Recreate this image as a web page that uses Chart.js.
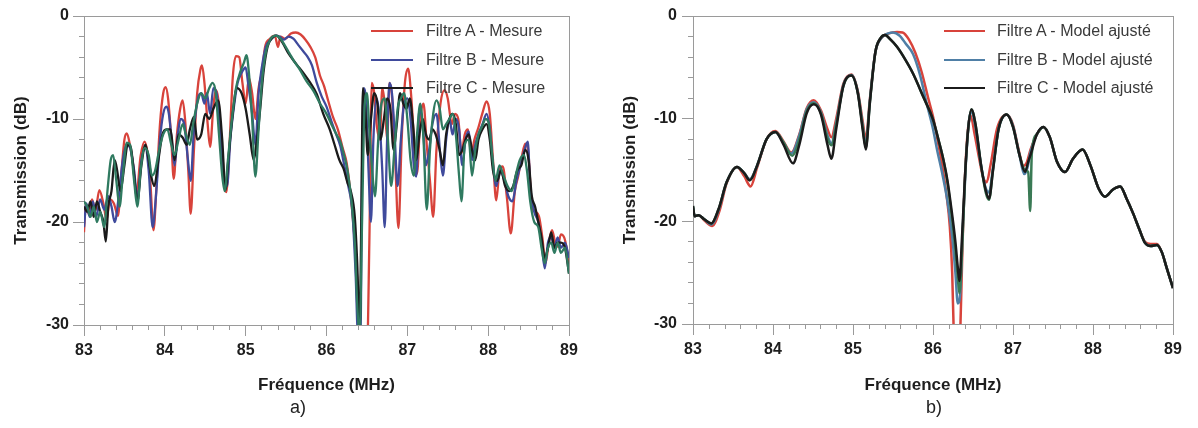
<!DOCTYPE html>
<html lang="fr">
<head>
<meta charset="utf-8">
<title>Transmission des filtres</title>
<script src="https://cdn.jsdelivr.net/npm/chart.js@4.4.1/dist/chart.umd.min.js"></script>
<style>
  html, body { margin: 0; padding: 0; background: #fff; }
  #page { position: relative; width: 1198px; height: 428px; overflow: hidden;
          font-family: "Liberation Sans", Arial, Helvetica, sans-serif; }
  #page canvas { position: absolute; top: 0; }
  .legend { position: absolute; top: 17px; }
  .legend .row { display: flex; align-items: center; height: 28.5px; }
  .legend .swatch { height: 2px; }
  .legend .label { font-size: 16px; color: #3a3a3a; white-space: nowrap; }
  .caption { position: absolute; top: 397px; font-size: 18px; color: #222;
             transform: translateX(-50%); }
</style>
</head>
<body>
<div id="page">
  <canvas id="mesure" width="600" height="428" style="left:0"></canvas>
  <canvas id="modele" width="598" height="428" style="left:600px"></canvas>
  <div class="legend" id="legMesure" style="left:371px"></div>
  <div class="legend" id="legModele" style="left:944px"></div>
  <div class="caption" style="left:298px">a)</div>
  <div class="caption" style="left:934px">b)</div>
</div>
<script>
// Fréquence (MHz), transmission (dB) -- mesures
const mesureA = [[83.00,-21.0],[83.02,-18.5],[83.06,-19.2],[83.10,-17.8],[83.14,-18.9],[83.19,-16.9],[83.24,-18.2],[83.28,-19.8],[83.32,-17.8],[83.37,-18.2],[83.42,-19.4],[83.46,-15.5],[83.50,-12.0],[83.53,-11.4],[83.57,-12.6],[83.61,-14.5],[83.65,-17.2],[83.70,-13.6],[83.75,-12.2],[83.79,-13.5],[83.82,-16.0],[83.86,-20.8],[83.90,-16.0],[83.94,-10.5],[83.98,-7.5],[84.01,-6.9],[84.04,-8.0],[84.08,-12.0],[84.11,-15.8],[84.15,-11.5],[84.19,-9.0],[84.22,-8.2],[84.25,-10.0],[84.29,-15.0],[84.32,-19.2],[84.36,-13.0],[84.40,-7.5],[84.44,-5.2],[84.46,-4.8],[84.49,-6.5],[84.53,-10.5],[84.56,-12.7],[84.60,-8.8],[84.63,-7.2],[84.66,-8.0],[84.70,-12.0],[84.74,-16.5],[84.76,-17.1],[84.80,-12.5],[84.84,-6.0],[84.88,-3.9],[84.92,-4.0],[84.96,-6.5],[85.00,-8.5],[85.04,-6.0],[85.08,-7.5],[85.12,-10.0],[85.16,-7.0],[85.20,-5.5],[85.24,-3.0],[85.30,-2.2],[85.36,-1.9],[85.40,-3.0],[85.43,-2.0],[85.49,-2.2],[85.56,-1.7],[85.62,-1.6],[85.68,-1.8],[85.74,-2.3],[85.80,-3.0],[85.86,-4.0],[85.92,-5.8],[85.97,-6.8],[86.02,-8.2],[86.08,-9.8],[86.14,-11.0],[86.20,-12.8],[86.25,-14.3],[86.30,-17.5],[86.35,-22.0],[86.40,-28.0],[86.44,-33.0],[86.50,-33.0],[86.53,-22.0],[86.56,-6.5],[86.59,-7.5],[86.62,-10.5],[86.66,-12.0],[86.69,-7.0],[86.72,-8.5],[86.75,-12.0],[86.78,-6.5],[86.81,-7.8],[86.85,-14.0],[86.89,-20.6],[86.93,-12.0],[86.97,-6.5],[87.01,-5.1],[87.05,-8.0],[87.09,-13.0],[87.12,-15.3],[87.16,-10.0],[87.20,-8.5],[87.24,-12.5],[87.28,-16.0],[87.32,-19.5],[87.36,-13.0],[87.41,-8.5],[87.46,-7.2],[87.50,-8.0],[87.55,-10.5],[87.59,-9.5],[87.63,-10.0],[87.67,-13.3],[87.71,-11.5],[87.75,-11.0],[87.79,-13.5],[87.83,-12.0],[87.88,-10.8],[87.93,-9.4],[87.98,-8.3],[88.02,-9.5],[88.06,-14.0],[88.10,-17.9],[88.14,-15.0],[88.18,-14.6],[88.23,-17.5],[88.28,-21.1],[88.33,-17.0],[88.37,-15.6],[88.42,-13.5],[88.46,-12.4],[88.50,-13.5],[88.54,-18.5],[88.58,-19.0],[88.63,-19.5],[88.67,-21.5],[88.71,-24.0],[88.75,-22.0],[88.79,-20.8],[88.83,-22.0],[88.86,-22.4],[88.90,-21.2],[88.94,-21.5],[88.97,-22.5],[89.00,-24.3]];
const mesureB = [[83.00,-20.5],[83.03,-18.2],[83.07,-19.5],[83.11,-18.0],[83.15,-19.5],[83.20,-17.8],[83.25,-18.8],[83.30,-17.5],[83.34,-18.5],[83.38,-20.0],[83.43,-17.5],[83.48,-14.0],[83.53,-12.5],[83.57,-12.8],[83.62,-15.0],[83.66,-17.8],[83.71,-14.0],[83.76,-12.8],[83.80,-15.0],[83.85,-20.5],[83.89,-17.5],[83.94,-12.0],[83.98,-9.5],[84.02,-8.8],[84.05,-9.5],[84.09,-12.5],[84.12,-14.5],[84.16,-11.5],[84.20,-10.0],[84.24,-10.5],[84.28,-13.5],[84.32,-16.0],[84.36,-11.0],[84.41,-8.0],[84.45,-7.5],[84.49,-8.5],[84.52,-7.5],[84.56,-9.5],[84.60,-7.0],[84.64,-7.5],[84.69,-11.5],[84.73,-16.0],[84.77,-16.5],[84.81,-12.0],[84.86,-8.5],[84.90,-6.5],[84.95,-5.5],[85.00,-5.0],[85.03,-6.5],[85.08,-9.5],[85.12,-12.5],[85.16,-7.5],[85.20,-5.0],[85.25,-3.0],[85.31,-2.3],[85.37,-1.9],[85.42,-2.0],[85.47,-2.3],[85.53,-2.0],[85.59,-2.2],[85.65,-2.8],[85.71,-3.4],[85.76,-3.9],[85.82,-4.8],[85.88,-6.5],[85.94,-7.8],[86.00,-8.8],[86.06,-10.2],[86.12,-11.5],[86.17,-12.6],[86.22,-14.5],[86.27,-16.5],[86.32,-19.0],[86.36,-25.0],[86.39,-31.0],[86.42,-31.0],[86.44,-15.0],[86.46,-7.0],[86.49,-8.5],[86.52,-15.0],[86.55,-20.0],[86.58,-12.0],[86.62,-8.0],[86.65,-9.5],[86.69,-15.0],[86.72,-20.5],[86.75,-12.0],[86.78,-6.5],[86.81,-7.5],[86.84,-11.0],[86.88,-16.5],[86.92,-12.0],[86.96,-8.5],[87.00,-8.0],[87.04,-10.0],[87.08,-14.5],[87.11,-15.6],[87.15,-9.0],[87.19,-10.5],[87.23,-14.5],[87.27,-13.0],[87.31,-10.5],[87.36,-9.5],[87.41,-13.7],[87.44,-15.5],[87.48,-12.0],[87.52,-10.0],[87.56,-11.5],[87.60,-10.0],[87.64,-11.0],[87.68,-14.5],[87.72,-12.0],[87.76,-11.2],[87.80,-14.0],[87.84,-12.5],[87.88,-11.5],[87.93,-10.5],[87.98,-9.5],[88.02,-11.0],[88.06,-14.5],[88.10,-16.5],[88.15,-15.0],[88.20,-16.0],[88.25,-17.5],[88.30,-18.0],[88.35,-16.0],[88.40,-14.5],[88.45,-13.0],[88.49,-12.2],[88.52,-16.5],[88.57,-19.0],[88.62,-20.0],[88.66,-22.0],[88.70,-24.5],[88.74,-22.0],[88.78,-21.5],[88.82,-22.5],[88.86,-21.5],[88.90,-22.5],[88.95,-22.0],[89.00,-23.5]];
const mesureC = [[83.00,-18.5],[83.04,-19.0],[83.08,-18.0],[83.12,-19.5],[83.16,-18.0],[83.20,-19.0],[83.24,-20.0],[83.27,-21.9],[83.30,-18.5],[83.34,-17.0],[83.38,-14.0],[83.41,-15.0],[83.45,-17.0],[83.50,-14.5],[83.54,-12.5],[83.58,-12.8],[83.62,-15.5],[83.66,-18.0],[83.71,-14.5],[83.76,-12.5],[83.80,-14.0],[83.83,-15.5],[83.87,-16.5],[83.92,-14.0],[83.97,-11.5],[84.02,-11.0],[84.07,-11.0],[84.12,-14.0],[84.17,-11.5],[84.22,-11.8],[84.27,-12.5],[84.31,-11.0],[84.36,-9.8],[84.40,-12.0],[84.45,-11.5],[84.50,-9.5],[84.55,-10.0],[84.60,-9.0],[84.66,-8.2],[84.71,-12.0],[84.75,-16.9],[84.79,-13.5],[84.84,-9.5],[84.89,-7.0],[84.95,-7.5],[85.00,-9.0],[85.05,-11.5],[85.10,-14.0],[85.14,-12.0],[85.18,-9.0],[85.22,-5.5],[85.27,-3.0],[85.32,-2.2],[85.38,-1.9],[85.45,-2.5],[85.52,-3.5],[85.59,-4.3],[85.66,-5.0],[85.72,-5.6],[85.80,-6.5],[85.88,-7.6],[85.96,-9.5],[86.04,-11.0],[86.10,-12.5],[86.16,-14.0],[86.21,-14.8],[86.26,-16.2],[86.30,-17.0],[86.35,-19.5],[86.38,-24.0],[86.41,-30.5],[86.43,-20.0],[86.45,-7.0],[86.48,-9.0],[86.51,-13.5],[86.55,-10.0],[86.59,-7.5],[86.63,-8.5],[86.67,-12.0],[86.71,-10.0],[86.75,-8.0],[86.79,-9.0],[86.83,-13.0],[86.87,-10.5],[86.91,-7.5],[86.95,-8.5],[86.99,-9.0],[87.03,-8.0],[87.07,-10.5],[87.11,-14.0],[87.15,-11.5],[87.19,-10.0],[87.23,-11.5],[87.27,-12.0],[87.31,-11.0],[87.35,-11.5],[87.40,-13.0],[87.44,-14.5],[87.48,-11.5],[87.52,-10.0],[87.56,-9.5],[87.60,-10.5],[87.64,-13.5],[87.68,-13.0],[87.72,-12.0],[87.76,-11.5],[87.80,-13.0],[87.84,-14.0],[87.88,-12.0],[87.93,-11.0],[87.98,-10.5],[88.02,-12.0],[88.06,-15.0],[88.11,-16.0],[88.16,-15.0],[88.21,-16.5],[88.26,-17.0],[88.31,-16.5],[88.36,-15.0],[88.41,-14.5],[88.46,-13.0],[88.50,-14.0],[88.54,-17.5],[88.58,-18.5],[88.62,-20.0],[88.66,-21.5],[88.70,-23.5],[88.74,-22.5],[88.78,-21.0],[88.82,-22.5],[88.86,-22.0],[88.90,-22.0],[88.95,-22.5],[89.00,-25.0]];
const mesureD = [[83.00,-18.0],[83.04,-18.5],[83.08,-19.5],[83.12,-18.5],[83.16,-20.0],[83.20,-19.0],[83.25,-20.5],[83.29,-17.0],[83.33,-14.0],[83.36,-13.5],[83.40,-16.0],[83.44,-18.5],[83.48,-15.5],[83.53,-12.3],[83.57,-12.5],[83.62,-16.0],[83.66,-18.5],[83.70,-15.0],[83.75,-12.8],[83.80,-13.5],[83.84,-15.5],[83.88,-15.0],[83.93,-13.0],[83.98,-11.5],[84.03,-11.0],[84.08,-12.5],[84.12,-13.5],[84.17,-12.0],[84.22,-10.5],[84.26,-11.5],[84.31,-12.5],[84.35,-10.5],[84.40,-8.5],[84.45,-7.5],[84.50,-8.0],[84.55,-7.0],[84.59,-6.5],[84.63,-7.5],[84.67,-11.5],[84.71,-15.5],[84.74,-17.0],[84.78,-14.0],[84.83,-10.0],[84.88,-7.0],[84.93,-5.5],[84.98,-4.5],[85.01,-3.8],[85.04,-5.5],[85.08,-10.0],[85.12,-15.6],[85.16,-11.0],[85.20,-6.5],[85.25,-3.5],[85.31,-2.2],[85.37,-1.9],[85.42,-2.1],[85.48,-2.8],[85.54,-3.6],[85.60,-4.4],[85.67,-5.2],[85.75,-6.3],[85.84,-7.3],[85.92,-8.5],[86.00,-9.5],[86.06,-10.5],[86.13,-11.6],[86.17,-12.2],[86.21,-13.3],[86.26,-15.0],[86.31,-18.0],[86.35,-22.0],[86.38,-28.0],[86.41,-31.0],[86.44,-20.0],[86.47,-9.0],[86.50,-7.5],[86.53,-11.0],[86.57,-15.5],[86.60,-17.5],[86.64,-12.0],[86.68,-8.5],[86.72,-8.0],[86.76,-12.0],[86.80,-16.5],[86.84,-13.0],[86.88,-9.0],[86.92,-8.0],[86.96,-7.5],[87.00,-10.0],[87.04,-14.0],[87.08,-15.5],[87.12,-11.5],[87.16,-8.5],[87.20,-12.0],[87.24,-18.8],[87.28,-13.0],[87.32,-9.5],[87.36,-8.2],[87.40,-9.0],[87.44,-11.0],[87.48,-10.5],[87.52,-10.0],[87.56,-9.5],[87.60,-11.5],[87.64,-15.5],[87.67,-18.0],[87.71,-12.5],[87.76,-12.0],[87.80,-15.5],[87.84,-13.0],[87.88,-11.5],[87.92,-10.8],[87.97,-10.0],[88.01,-10.5],[88.05,-13.5],[88.09,-16.0],[88.14,-14.5],[88.19,-15.5],[88.24,-16.5],[88.29,-17.0],[88.34,-15.5],[88.39,-14.0],[88.44,-13.5],[88.48,-15.0],[88.52,-18.0],[88.57,-20.0],[88.62,-20.5],[88.66,-22.5],[88.70,-24.0],[88.74,-22.5],[88.78,-22.0],[88.82,-23.0],[88.86,-22.0],[88.90,-23.0],[88.95,-22.5],[89.00,-25.0]];

// Fréquence (MHz), transmission (dB) -- modèles ajustés
const modeleA = [[83.00,-18.7],[83.02,-19.5],[83.07,-19.4],[83.14,-19.9],[83.24,-20.45],[83.33,-19.0],[83.42,-16.3],[83.55,-14.7],[83.64,-15.6],[83.72,-16.6],[83.80,-14.8],[83.92,-12.0],[84.03,-11.2],[84.13,-12.2],[84.23,-13.3],[84.33,-11.5],[84.42,-9.0],[84.51,-8.2],[84.60,-9.2],[84.68,-11.0],[84.73,-11.8],[84.79,-10.0],[84.88,-6.6],[84.98,-5.7],[85.06,-7.3],[85.12,-10.2],[85.16,-12.0],[85.21,-8.2],[85.28,-3.5],[85.36,-2.1],[85.45,-1.7],[85.55,-1.55],[85.62,-1.6],[85.70,-2.3],[85.78,-3.6],[85.86,-5.5],[85.94,-8.0],[86.00,-9.8],[86.06,-12.2],[86.12,-14.8],[86.17,-17.5],[86.21,-20.5],[86.24,-25.0],[86.26,-31.0],[86.30,-36.0],[86.34,-31.0],[86.37,-22.0],[86.41,-14.0],[86.44,-10.8],[86.47,-9.7],[86.52,-11.5],[86.58,-14.0],[86.63,-15.8],[86.67,-16.2],[86.72,-14.5],[86.80,-11.0],[86.92,-9.6],[87.00,-10.6],[87.07,-13.0],[87.13,-14.6],[87.17,-14.3],[87.22,-13.0],[87.30,-11.5],[87.38,-10.8],[87.46,-11.8],[87.55,-14.2],[87.65,-15.2],[87.75,-13.9],[87.87,-13.0],[87.97,-14.6],[88.07,-16.8],[88.15,-17.6],[88.25,-16.9],[88.34,-16.6],[88.42,-17.8],[88.50,-19.2],[88.58,-20.8],[88.65,-22.0],[88.72,-22.2],[88.80,-22.2],[88.86,-23.0],[88.92,-24.5],[89.00,-26.5]];
const modeleB = [[83.00,-18.6],[83.02,-19.5],[83.07,-19.4],[83.14,-19.8],[83.23,-20.3],[83.32,-18.9],[83.42,-16.2],[83.55,-14.7],[83.64,-15.3],[83.71,-15.9],[83.80,-14.6],[83.92,-12.0],[84.03,-11.3],[84.13,-12.3],[84.23,-13.4],[84.33,-11.6],[84.42,-9.1],[84.51,-8.4],[84.60,-9.4],[84.68,-11.6],[84.73,-12.4],[84.79,-10.4],[84.88,-6.7],[84.98,-5.75],[85.06,-7.4],[85.12,-10.6],[85.16,-12.6],[85.21,-8.3],[85.28,-3.5],[85.36,-2.1],[85.44,-1.7],[85.50,-1.6],[85.58,-1.9],[85.66,-2.7],[85.75,-3.7],[85.84,-5.8],[85.92,-8.5],[86.00,-11.0],[86.05,-13.0],[86.12,-15.5],[86.18,-18.0],[86.24,-21.5],[86.28,-25.0],[86.31,-28.0],[86.34,-27.0],[86.37,-21.0],[86.41,-14.5],[86.45,-10.2],[86.48,-9.3],[86.53,-10.8],[86.60,-14.5],[86.66,-16.8],[86.70,-17.2],[86.75,-14.8],[86.82,-11.0],[86.92,-9.6],[87.00,-10.7],[87.08,-13.5],[87.14,-15.4],[87.18,-14.8],[87.22,-13.2],[87.30,-11.5],[87.38,-10.8],[87.46,-11.8],[87.55,-14.2],[87.65,-15.2],[87.75,-13.9],[87.87,-13.0],[87.97,-14.6],[88.07,-16.8],[88.15,-17.6],[88.25,-16.9],[88.34,-16.6],[88.42,-17.8],[88.50,-19.2],[88.58,-20.8],[88.65,-22.1],[88.72,-22.4],[88.80,-22.3],[88.86,-23.0],[88.92,-24.5],[89.00,-26.5]];
const modeleC = [[83.00,-18.5],[83.02,-19.5],[83.07,-19.4],[83.14,-19.8],[83.23,-20.2],[83.32,-18.8],[83.42,-16.2],[83.55,-14.7],[83.64,-15.3],[83.71,-16.0],[83.80,-14.6],[83.92,-12.0],[84.03,-11.3],[84.13,-12.5],[84.25,-14.35],[84.33,-12.5],[84.42,-9.5],[84.51,-8.6],[84.60,-9.6],[84.68,-12.5],[84.73,-13.9],[84.79,-11.0],[84.88,-6.8],[84.98,-5.8],[85.06,-7.5],[85.12,-11.0],[85.16,-13.0],[85.21,-8.5],[85.28,-3.5],[85.34,-2.2],[85.40,-1.85],[85.47,-2.3],[85.55,-3.0],[85.65,-4.2],[85.75,-5.6],[85.88,-7.9],[86.00,-10.1],[86.07,-12.1],[86.13,-14.0],[86.18,-16.0],[86.23,-18.8],[86.28,-22.0],[86.31,-24.5],[86.33,-25.8],[86.36,-22.0],[86.40,-15.6],[86.44,-11.0],[86.48,-9.1],[86.53,-10.5],[86.60,-14.5],[86.66,-17.0],[86.70,-17.8],[86.75,-15.0],[86.82,-11.0],[86.92,-9.6],[87.00,-10.8],[87.08,-13.5],[87.15,-15.2],[87.19,-14.2],[87.22,-13.5],[87.30,-11.5],[87.38,-10.8],[87.46,-11.8],[87.55,-14.2],[87.65,-15.2],[87.75,-13.9],[87.87,-13.0],[87.97,-14.6],[88.07,-16.8],[88.15,-17.6],[88.25,-16.9],[88.34,-16.6],[88.42,-17.8],[88.50,-19.2],[88.58,-20.8],[88.65,-22.1],[88.72,-22.4],[88.80,-22.3],[88.86,-23.0],[88.92,-24.5],[89.00,-26.5]];
const modeleD = [[83.00,-18.5],[83.02,-19.5],[83.07,-19.4],[83.14,-19.8],[83.23,-20.2],[83.32,-18.8],[83.42,-16.2],[83.55,-14.7],[83.64,-15.3],[83.71,-16.0],[83.80,-14.6],[83.92,-12.0],[84.03,-11.3],[84.13,-12.3],[84.24,-13.6],[84.33,-12.0],[84.42,-9.3],[84.51,-8.5],[84.60,-9.5],[84.68,-11.9],[84.73,-12.6],[84.79,-10.6],[84.88,-6.8],[84.98,-5.8],[85.06,-7.5],[85.12,-10.8],[85.16,-12.8],[85.21,-8.5],[85.28,-3.5],[85.34,-2.2],[85.40,-1.85],[85.47,-2.3],[85.55,-3.0],[85.65,-4.2],[85.75,-5.6],[85.88,-7.9],[86.00,-10.1],[86.07,-12.1],[86.13,-14.0],[86.18,-16.2],[86.23,-19.2],[86.28,-22.8],[86.31,-25.5],[86.33,-27.0],[86.36,-23.5],[86.40,-15.8],[86.44,-11.0],[86.48,-9.1],[86.53,-10.5],[86.60,-14.5],[86.66,-17.2],[86.70,-17.9],[86.75,-15.0],[86.82,-11.0],[86.92,-9.6],[87.00,-10.8],[87.08,-13.5],[87.15,-15.0],[87.19,-15.2],[87.215,-19.0],[87.235,-13.4],[87.30,-11.5],[87.38,-10.8],[87.46,-11.8],[87.55,-14.2],[87.65,-15.2],[87.75,-13.9],[87.87,-13.0],[87.97,-14.6],[88.07,-16.8],[88.15,-17.6],[88.25,-16.9],[88.34,-16.6],[88.42,-17.8],[88.50,-19.2],[88.58,-20.8],[88.65,-22.1],[88.72,-22.4],[88.80,-22.3],[88.86,-23.0],[88.92,-24.5],[89.00,-26.5]];

// axis limits and tick steps
const freqRange = [83, 89];
const dbRange = [-30, 0];
const freqMajor = 1, freqMinor = 0.2;
const dbMajor = 10, dbMinor = 2;

const FONT = '"Liberation Sans", Arial, Helvetica, sans-serif';
const axisGray = '#9a9a9a';
const tickFont = { family: FONT, size: 16, weight: 'bold' };
const titleFont = { family: FONT, size: 17, weight: 'bold' };

const red = '#d8433b', black = '#1b1b1b';

function line(label, data, color, width) {
  return { label: label, data: data, borderColor: color, borderWidth: width,
           fill: false, pointRadius: 0, cubicInterpolationMode: 'monotone' };
}

// one panel: major axes carry labels, minor axes only short tick marks,
// top/right axes close the frame
function panelConfig(datasets, g) {
  const fixH = h => s => { s.height = h; };
  const fixW = w => s => { s.width = w; };
  return {
    type: 'line',
    data: { datasets: datasets },
    options: {
      responsive: false,
      animation: false,
      events: [],
      layout: { padding: { left: 0, right: g.right, top: 16, bottom: 0 } },
      plugins: { legend: { display: false }, tooltip: { enabled: false }, title: { display: false } },
      scales: {
        x: {
          type: 'linear', position: 'bottom', weight: 1,
          min: freqRange[0], max: freqRange[1],
          ticks: { stepSize: freqMajor, font: tickFont, color: '#1e1e1e', padding: 5, maxRotation: 0 },
          grid: { drawOnChartArea: false, tickLength: 11, color: axisGray },
          border: { color: axisGray },
          title: { display: true, text: 'Fréquence (MHz)', font: titleFont, color: '#1e1e1e',
                   padding: { top: 0, bottom: 32 } },
          afterFit: fixH(g.xHeight)
        },
        xMinor: {
          type: 'linear', axis: 'x', position: 'bottom', weight: 0,
          min: freqRange[0], max: freqRange[1],
          ticks: { stepSize: freqMinor, display: false },
          grid: { drawOnChartArea: false, tickLength: 5, color: axisGray },
          border: { display: false },
          afterFit: fixH(0)
        },
        xTop: {
          type: 'linear', axis: 'x', position: 'top',
          min: freqRange[0], max: freqRange[1],
          ticks: { display: false },
          grid: { drawOnChartArea: false, drawTicks: false },
          border: { color: axisGray },
          afterFit: fixH(0)
        },
        y: {
          type: 'linear', position: 'left', weight: 1,
          min: dbRange[0], max: dbRange[1],
          ticks: { stepSize: dbMajor, font: tickFont, color: '#1e1e1e', padding: g.yPad },
          grid: { drawOnChartArea: false, tickLength: 11, color: axisGray },
          border: { color: axisGray },
          title: { display: true, text: 'Transmission (dB)', font: titleFont, color: '#1e1e1e',
                   padding: { top: g.yTitlePad, bottom: 0 } },
          afterFit: fixW(g.yWidth)
        },
        yMinor: {
          type: 'linear', axis: 'y', position: 'left', weight: 0,
          min: dbRange[0], max: dbRange[1],
          ticks: { stepSize: dbMinor, display: false },
          grid: { drawOnChartArea: false, tickLength: 5, color: axisGray },
          border: { display: false },
          afterFit: fixW(0)
        },
        yRight: {
          type: 'linear', axis: 'y', position: 'right',
          min: dbRange[0], max: dbRange[1],
          ticks: { display: false },
          grid: { drawOnChartArea: false, drawTicks: false },
          border: { color: axisGray },
          afterFit: fixW(0)
        }
      }
    }
  };
}

// datasets listed top-most first
const mesureSets = [
  line('Filtre D - Mesure', mesureD, '#2f7a60', 2.3),
  line('Filtre C - Mesure', mesureC, black, 2.3),
  line('Filtre B - Mesure', mesureB, '#3f4a9c', 2.3),
  line('Filtre A - Mesure', mesureA, red, 2.3)
];
const modeleSets = [
  line('Filtre C - Model ajusté', modeleC, black, 2.5),
  line('Filtre D - Model ajusté', modeleD, '#3a7a55', 2.5),
  line('Filtre B - Model ajusté', modeleB, '#4f7fa6', 2.5),
  line('Filtre A - Model ajusté', modeleA, red, 2.5)
];

new Chart(document.getElementById('mesure'),
  panelConfig(mesureSets, { right: 31, xHeight: 103, yWidth: 84, yPad: 4, yTitlePad: 11 }));
new Chart(document.getElementById('modele'),
  panelConfig(modeleSets, { right: 25, xHeight: 104, yWidth: 93, yPad: 5, yTitlePad: 20 }));

// legends: only filters A, B, C are listed
function buildLegend(id, sets, names, lineLen, gap) {
  const box = document.getElementById(id);
  names.forEach(name => {
    const ds = sets.find(d => d.label === name);
    const row = document.createElement('div');
    row.className = 'row';
    const sw = document.createElement('span');
    sw.className = 'swatch';
    sw.style.width = lineLen + 'px';
    sw.style.marginRight = gap + 'px';
    sw.style.background = ds.borderColor;
    const txt = document.createElement('span');
    txt.className = 'label';
    txt.textContent = name;
    row.appendChild(sw);
    row.appendChild(txt);
    box.appendChild(row);
  });
}
buildLegend('legMesure', mesureSets,
  ['Filtre A - Mesure', 'Filtre B - Mesure', 'Filtre C - Mesure'], 42, 13);
buildLegend('legModele', modeleSets,
  ['Filtre A - Model ajusté', 'Filtre B - Model ajusté', 'Filtre C - Model ajusté'], 41, 12);
</script>
</body>
</html>
